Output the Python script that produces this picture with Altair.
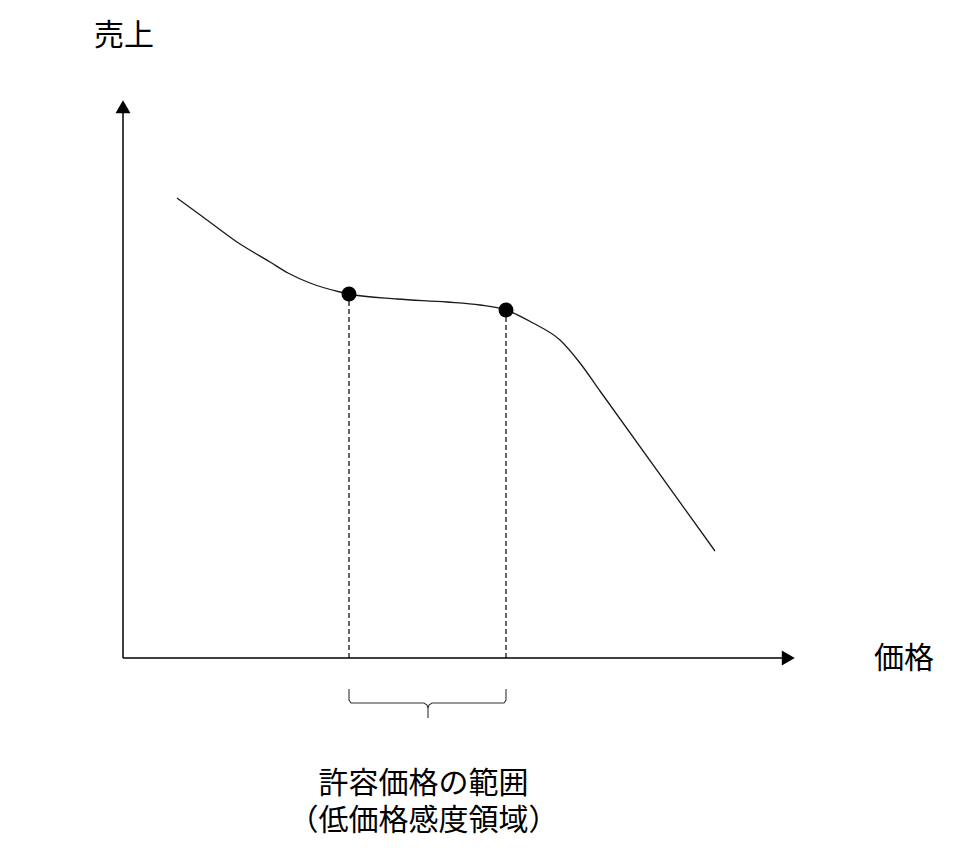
import altair as alt
import pandas as pd

# ---- data (arbitrary price / sales units) ----
curve_price = [54, 80, 114, 147, 165, 187, 217, 226, 274, 324, 357, 383, 410, 437, 457, 477, 592]
curve_sales = [460, 441, 416, 396, 385, 375, 366, 364, 359, 356, 353, 348, 335, 318, 295, 267, 107]

point_price = [226, 383]
point_sales = [364, 348]

brace_seg = ["L"] * 7 + ["R"] * 6
brace_price = [226, 226, 228, 301, 304, 305, 305, 383, 383, 381, 309, 306, 305]
brace_sales = [-31, -42, -45, -45, -47, -50, -60, -31, -42, -45, -45, -47, -50]

axis_x_end = 666
axis_y_end = 552
arrow_price = [665.3, 0]
arrow_sales = [0, 551.3]
arrow_shape = ["triangle-right", "triangle-up"]

label_text = ["売上", "価格"]
label_price = [1, 781]
label_sales = [622, -1]

range_lines = ["許容価格の範囲", "（低価格感度領域）"]
range_price = 300.5
range_sales = -126

FONT = "Noto Sans CJK JP"

xs = alt.Scale(domain=[-115, 849], nice=False, zero=False)
ys = alt.Scale(domain=[-184, 650], nice=False, zero=False)


def X(f):
    return alt.X(f, type="quantitative", scale=xs, axis=None)


def Y(f):
    return alt.Y(f, type="quantitative", scale=ys, axis=None)


axes_df = pd.DataFrame({
    "x": [0, 0], "y": [0, 0],
    "x2": [axis_x_end, 0], "y2": [0, axis_y_end],
})
axes = alt.Chart(axes_df).mark_rule(color="#000000", strokeWidth=1.5).encode(
    x=X("x"), y=Y("y"), x2="x2", y2="y2"
)

arrows_df = pd.DataFrame({"x": arrow_price, "y": arrow_sales, "shape": arrow_shape})
arrows = alt.Chart(arrows_df).mark_point(filled=True, color="#000000", opacity=1, size=225).encode(
    x=X("x"), y=Y("y"), shape=alt.Shape("shape:N", scale=None)
)

curve_df = pd.DataFrame({"x": curve_price, "y": curve_sales, "i": list(range(len(curve_price)))})
curve = alt.Chart(curve_df).mark_line(color="#1a1a1a", strokeWidth=1.3, interpolate="monotone").encode(
    x=X("x"), y=Y("y"), order="i:Q"
)

pts_df = pd.DataFrame({"x": point_price, "y": point_sales, "y0": [0, 0]})
dashes = alt.Chart(pts_df).mark_rule(color="#000000", strokeWidth=1.2, strokeDash=[5, 3]).encode(
    x=X("x"), y=Y("y0"), y2="y"
)
dots = alt.Chart(pts_df).mark_circle(color="#000000", opacity=1, size=225).encode(
    x=X("x"), y=Y("y")
)

brace_df = pd.DataFrame({
    "x": brace_price, "y": brace_sales, "seg": brace_seg,
    "i": list(range(len(brace_price))),
})
brace = alt.Chart(brace_df).mark_line(color="#333333", strokeWidth=1.1).encode(
    x=X("x"), y=Y("y"), detail="seg:N", order="i:Q"
)

labels_df = pd.DataFrame({"x": label_price, "y": label_sales, "t": label_text})
labels = alt.Chart(labels_df).mark_text(
    font=FONT, fontSize=30, color="#000000", align="center", baseline="middle"
).encode(x=X("x"), y=Y("y"), text="t:N")

range_df = pd.DataFrame({"x": [range_price], "y": [range_sales], "t": ["\n".join(range_lines)]})
range_label = alt.Chart(range_df).mark_text(
    font=FONT, fontSize=30, color="#000000", align="center", baseline="middle",
    lineBreak="\n", lineHeight=37,
).encode(x=X("x"), y=Y("y"), text="t:N")

chart = alt.layer(axes, arrows, dashes, curve, dots, brace, labels, range_label).properties(
    width=964, height=834, padding=0,
    autosize=alt.AutoSizeParams(type="none"),
    background="white",
).configure_view(stroke=None)

chart.save("out.html", embed_options={"renderer": "svg", "actions": False})
